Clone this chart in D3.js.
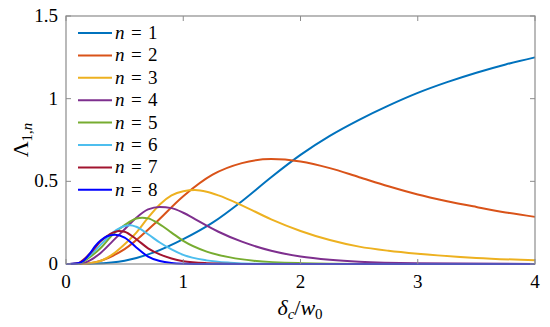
<!DOCTYPE html>
<html>
<head>
<meta charset="utf-8">
<script src="https://cdn.jsdelivr.net/npm/d3@7"></script>
<style>
  svg text, svg tspan { font-family: "Liberation Serif", serif !important; }
</style>
</head>
<body style="margin:0">
<svg id="chart" width="550" height="327" font-family="Liberation Serif" style="font-family: 'Liberation Serif', serif"></svg>
<script>
// values, [delta_c / w0, Lambda]
const n1 = [[0, 0], [0.25, 0.003], [0.5, 0.02], [0.75, 0.07], [1, 0.15], [1.25, 0.25], [1.5, 0.38],
  [1.75, 0.525], [2, 0.66], [2.25, 0.775], [2.5, 0.872], [2.75, 0.958], [3, 1.035], [3.25, 1.1],
  [3.5, 1.157], [3.75, 1.207], [4, 1.25]]
const n2 = [[0, 0], [0.15, 0], [0.25, 0.01], [0.4, 0.05], [0.5, 0.09], [0.75, 0.24], [1, 0.41],
  [1.25, 0.54], [1.5, 0.61], [1.75, 0.635], [2, 0.62], [2.25, 0.58], [2.5, 0.525], [2.75, 0.47],
  [3, 0.42], [3.25, 0.38], [3.5, 0.345], [3.75, 0.312], [4, 0.285]]
const n3 = [[0, 0], [0.12, 0], [0.2, 0.005], [0.3, 0.02], [0.4, 0.06], [0.5, 0.12], [0.6, 0.19],
  [0.7, 0.28], [0.8, 0.36], [0.9, 0.415], [1, 0.44], [1.1, 0.447], [1.2, 0.437], [1.3, 0.415],
  [1.5, 0.355], [1.75, 0.27], [2, 0.2], [2.25, 0.145], [2.5, 0.105], [2.75, 0.08], [3, 0.062],
  [3.5, 0.037], [4, 0.022]]
const n4 = [[0, 0], [0.1, 0], [0.2, 0.02], [0.3, 0.07], [0.4, 0.14], [0.5, 0.21], [0.6, 0.28],
  [0.7, 0.33], [0.8, 0.345], [0.9, 0.338], [1, 0.31], [1.1, 0.272], [1.2, 0.232], [1.3, 0.195],
  [1.5, 0.135], [1.75, 0.08], [2, 0.045], [2.25, 0.025], [2.5, 0.013], [3, 0.004], [4, 0]]
const n5 = [[0, 0], [0.1, 0.002], [0.2, 0.04], [0.3, 0.1], [0.4, 0.18], [0.5, 0.235], [0.6, 0.275],
  [0.65, 0.28], [0.7, 0.276], [0.8, 0.24], [0.9, 0.19], [1, 0.14], [1.2, 0.075], [1.4, 0.04],
  [1.6, 0.02], [2, 0.005], [2.5, 0], [4, 0]]
const n6 = [[0, 0], [0.1, 0.003], [0.2, 0.05], [0.3, 0.12], [0.4, 0.19], [0.5, 0.23], [0.55, 0.235],
  [0.6, 0.225], [0.7, 0.18], [0.8, 0.13], [0.9, 0.088], [1, 0.055], [1.2, 0.022], [1.4, 0.008],
  [1.6, 0.002], [2, 0], [4, 0]]
const n7 = [[0, 0], [0.1, 0.005], [0.2, 0.06], [0.3, 0.14], [0.4, 0.19], [0.45, 0.2], [0.5, 0.195],
  [0.6, 0.15], [0.7, 0.095], [0.8, 0.058], [0.9, 0.033], [1, 0.017], [1.2, 0.005], [1.5, 0], [4, 0]]
const n8 = [[0, 0], [0.1, 0.005], [0.15, 0.02], [0.2, 0.06], [0.25, 0.11], [0.3, 0.145], [0.35, 0.168],
  [0.42, 0.177], [0.5, 0.16], [0.6, 0.1], [0.7, 0.045], [0.8, 0.018], [0.9, 0.006], [1, 0.002],
  [1.2, 0], [4, 0]]

const series = [n1, n2, n3, n4, n5, n6, n7, n8]
const labels = ['1', '2', '3', '4', '5', '6', '7', '8']
const colors = ['#0072BD', '#D95319', '#EDB120', '#7E2F8E', '#77AC30', '#4DBEEE', '#A2142F', '#0000FF']
const xTicks = [0, 1, 2, 3, 4]
const yTicks = [0, 0.5, 1, 1.5]
const yTickLabels = ['0', '0.5', '1', '1.5']

const FONT = 'Liberation Serif'

const svg = d3.select('#chart')
const margin = { left: 66, top: 16, right: 15, bottom: 63 }
const w = 550 - margin.left - margin.right
const h = 327 - margin.top - margin.bottom

const x = d3.scaleLinear().domain([0, 4]).range([margin.left, margin.left + w])
const y = d3.scaleLinear().domain([0, 1.5]).range([margin.top + h, margin.top])

const axisColor = '#8c8c8c'

// curves
const line = d3.line()
  .x(d => x(d[0]))
  .y(d => y(d[1]))
  .curve(d3.curveMonotoneX)

svg.append('g')
  .selectAll('path')
  .data(series)
  .join('path')
  .attr('d', d => line(d))
  .attr('fill', 'none')
  .attr('stroke', (d, i) => colors[i])
  .attr('stroke-width', 2)

// box with inward ticks
const box = svg.append('g').attr('stroke', axisColor).attr('fill', 'none')
box.append('rect')
  .attr('x', margin.left).attr('y', margin.top)
  .attr('width', w).attr('height', h)
  .attr('stroke-width', 1.2)
const tl = 5
xTicks.forEach(t => {
  box.append('line').attr('x1', x(t)).attr('x2', x(t)).attr('y1', margin.top + h).attr('y2', margin.top + h - tl)
  box.append('line').attr('x1', x(t)).attr('x2', x(t)).attr('y1', margin.top).attr('y2', margin.top + tl)
})
yTicks.forEach(t => {
  box.append('line').attr('x1', margin.left).attr('x2', margin.left + tl).attr('y1', y(t)).attr('y2', y(t))
  box.append('line').attr('x1', margin.left + w).attr('x2', margin.left + w - tl).attr('y1', y(t)).attr('y2', y(t))
})

const txt = (sel) => sel.attr('font-family', FONT).style('font-family', FONT)

// tick labels, placed from the scales
xTicks.forEach(t => {
  svg.append('text').attr('x', x(t)).attr('y', margin.top + h + 24)
    .attr('text-anchor', 'middle').attr('font-size', 19).call(txt)
    .text(d3.format('d')(t))
})
yTicks.forEach((t, i) => {
  svg.append('text').attr('x', margin.left - 8).attr('y', y(t) + 6)
    .attr('text-anchor', 'end').attr('font-size', 19).call(txt)
    .text(yTickLabels[i])
})

// legend
labels.forEach((lab, i) => {
  const yy = 33 + i * 22.4
  svg.append('line').attr('x1', 78).attr('x2', 112).attr('y1', yy).attr('y2', yy)
    .attr('stroke', colors[i]).attr('stroke-width', 2)
  svg.append('text').attr('x', 115).attr('y', yy + 6).call(txt)
    .attr('font-size', 19).attr('font-style', 'italic').text('n')
  svg.append('text').attr('x', 131).attr('y', yy + 6).call(txt)
    .attr('font-size', 19).text('=')
  svg.append('text').attr('x', 148).attr('y', yy + 6).call(txt)
    .attr('font-size', 19).text(lab)
})

// x label
const xl = svg.append('text')
  .attr('x', 300).attr('y', 315)
  .attr('text-anchor', 'middle')
  .call(txt)
  .attr('font-size', 22)
xl.append('tspan').attr('font-style', 'italic').text('δ')
xl.append('tspan').attr('font-style', 'italic').attr('font-size', 15).attr('dy', 4).text('c')
xl.append('tspan').attr('dy', -4).text('/')
xl.append('tspan').attr('font-style', 'italic').text('w')
xl.append('tspan').attr('font-size', 15).attr('dy', 4).text('0')

// y label
const yl = svg.append('text')
  .attr('transform', `translate(28,${margin.top + h / 2}) rotate(-90)`)
  .attr('text-anchor', 'middle')
  .call(txt)
  .attr('font-size', 22)
yl.append('tspan').text('Λ')
yl.append('tspan').attr('font-size', 15).attr('dy', 4).text('1,')
yl.append('tspan').attr('font-size', 15).attr('font-style', 'italic').text('n')
</script>
</body>
</html>
